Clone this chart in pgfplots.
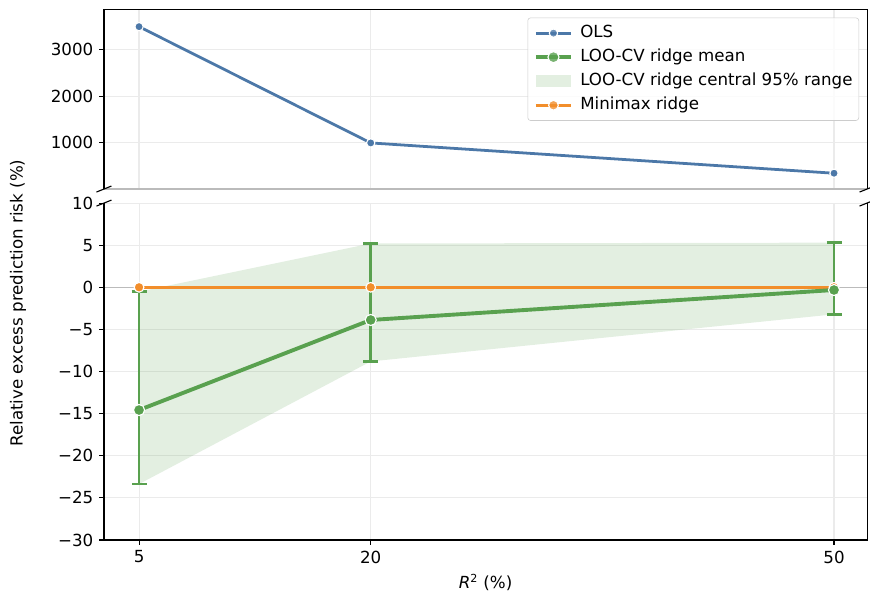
\documentclass[border=0pt]{standalone}
\usepackage{fontspec}
\setmainfont{DejaVu Sans}
\usepackage{pgfplots}
\usepackage{pgfplotstable}
\pgfplotsset{compat=1.18}
\definecolor{olsblue}{HTML}{4C78A8}
\definecolor{ridgegreen}{HTML}{59A14F}
\definecolor{mmorange}{HTML}{F28E2B}
\definecolor{gridgray}{HTML}{EBEBEB}
\definecolor{zerogray}{HTML}{BBBBBB}
\definecolor{leggray}{HTML}{CCCCCC}

\pgfplotstableread{
x    ols
5    3497
20   993
50   340
}\olsdata
\pgfplotstableread{
x    mean    lo      hi
5    -14.57  -23.36  -0.52
20   -3.88   -8.80   5.20
50   -0.32   -3.21   5.30
}\ridgedata
\pgfplotstableread{
x    mm
5    0
20   0
50   0
}\mmdata

\newcommand{\myfont}{\fontsize{12}{14.4}\selectfont}

\pgfplotsset{
  base/.style={
    scale only axis, width=549.4pt,
    xmin=2.73, xmax=52.14, xtick={5,20,50},
    grid=major, major grid style={gridgray, line width=0.8pt},
    axis line style={draw=none},
    tick style={black, line width=0.8pt}, major tick length=3.5pt, tick align=outside,
    xtick pos=bottom, ytick pos=left,
    ticklabel style={font=\myfont},
    label style={font=\myfont},
    /pgf/number format/assume math mode=true,
    clip=false,
  },
  linelegend/.style={legend image code/.code={
    \draw[mark repeat=2,mark phase=2, sharp corners, line width=#1] plot coordinates {(0pt,0pt) (12.6pt,0pt) (25.2pt,0pt)};
    \path (30.5pt,0pt);}},
}

\begin{document}
\myfont
\begin{tikzpicture}[font=\myfont]
\useasboundingbox (-74.88pt,-37.44pt) rectangle (551.52pt,388.8pt);

% bottom panel
\begin{axis}[base, at={(0,0)}, anchor=south west, height=242.6pt,
  ymin=-30, ymax=10,
  ytick={-30,-25,-20,-15,-10,-5,0,5,10},
  yticklabels={−30,−25,−20,−15,−10,−5,0,5,10},
  xticklabels={5,20,50},
  xlabel={\textit{R}\textsuperscript{2} (\%)},
]
\draw[zerogray, line width=0.8pt] (axis cs:2.73,0) -- (axis cs:52.14,0);
\addplot[fill=ridgegreen, fill opacity=0.17, draw=none, forget plot]
  coordinates {(5,-0.52) (20,5.20) (50,5.30) (50,-3.21) (20,-8.80) (5,-23.36)} -- cycle;
\addplot[mmorange, line width=2.2pt, mark=*, mark size=3.5pt,
  mark options={fill=mmorange, draw=white, line width=0.8pt}]
  table[x=x, y=mm] {\mmdata};
\addplot[draw=none, mark=none,
  error bars/.cd, y dir=both, y explicit,
  error bar style={ridgegreen, line width=1.8pt},
  error mark options={ridgegreen, rotate=90, mark size=5.4pt, line width=1.8pt}]
  table[x=x, y=mean, y error plus expr=\thisrow{hi}-\thisrow{mean},
        y error minus expr=\thisrow{mean}-\thisrow{lo}] {\ridgedata};
\addplot[ridgegreen, line width=2.8pt, mark=*, mark size=4pt,
  mark options={fill=ridgegreen, draw=white, line width=0.8pt}]
  table[x=x, y=mean] {\ridgedata};
% spines
\draw[black, line width=0.8pt] (rel axis cs:0,1) -- (rel axis cs:0,0) -- (rel axis cs:1,0) -- (rel axis cs:1,1);
% break marks
\draw[black, line width=0.8pt] (rel axis cs:0,1) ++(-5.4pt,-2.16pt) -- ++(10.8pt,4.32pt);
\draw[black, line width=0.8pt] (rel axis cs:1,1) ++(-5.4pt,-2.16pt) -- ++(10.8pt,4.32pt);
\end{axis}

% top panel
\begin{axis}[base, at={(0,252.7pt)}, anchor=south west, height=129.2pt,
  ymin=0, ymax=3865,
  ytick={1000,2000,3000},
  yticklabels={1000,2000,3000},
  xticklabels={}, xtick style={draw=none},
  legend style={at={(1,1)}, anchor=north east, xshift=-5.76pt, yshift=-5.76pt,
    draw=leggray, rounded corners=2pt, fill=white, fill opacity=0.8, text opacity=1,
    font=\myfont, cells={anchor=west},
    nodes={inner xsep=0pt, inner ysep=0pt, text height=9pt, text depth=3pt},
    row sep=5.3pt, inner xsep=4.5pt, inner ysep=5pt},
]
\draw[zerogray, line width=0.8pt] (axis cs:2.73,0) -- (axis cs:52.14,0);
\addplot[olsblue, line width=2pt, mark=*, mark size=3pt,
  mark options={fill=olsblue, draw=white, line width=0.8pt}, linelegend=2pt]
  table[x=x, y=ols] {\olsdata};
\addlegendentry{OLS}
\addlegendimage{ridgegreen, line width=2.8pt, mark=*, mark size=4pt,
  mark options={fill=ridgegreen, draw=white, line width=0.8pt}, linelegend=2.8pt}
\addlegendentry{LOO-CV ridge mean}
\addlegendimage{legend image code/.code={\fill[ridgegreen, fill opacity=0.17, draw=none, sharp corners] (0pt,-4.3pt) rectangle (25.2pt,4.3pt); \path (30.5pt,0pt);}}
\addlegendentry{LOO-CV ridge central 95\% range}
\addlegendimage{mmorange, line width=2.2pt, mark=*, mark size=3.5pt,
  mark options={fill=mmorange, draw=white, line width=0.8pt}, linelegend=2.2pt}
\addlegendentry{Minimax ridge}
% spines
\draw[black, line width=0.8pt] (rel axis cs:0,0) -- (rel axis cs:0,1) -- (rel axis cs:1,1) -- (rel axis cs:1,0);
% break marks
\draw[black, line width=0.8pt] (rel axis cs:0,0) ++(-5.4pt,-2.16pt) -- ++(10.8pt,4.32pt);
\draw[black, line width=0.8pt] (rel axis cs:1,0) ++(-5.4pt,-2.16pt) -- ++(10.8pt,4.32pt);
\end{axis}

\node[rotate=90] at (-61.92pt,170.6pt) {Relative excess prediction risk (\%)};
\end{tikzpicture}
\end{document}
